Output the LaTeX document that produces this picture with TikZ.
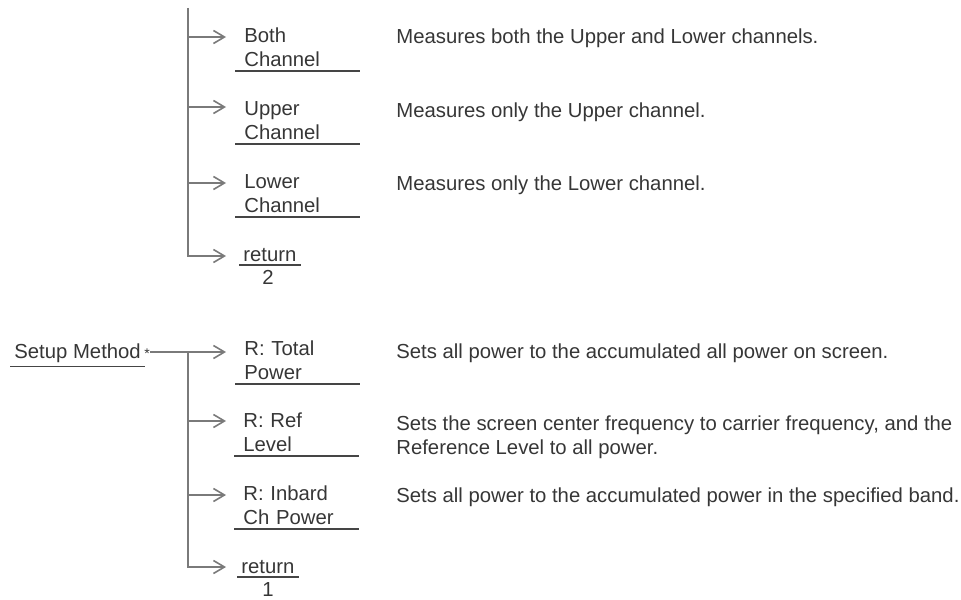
\documentclass[tikz,border=0pt]{standalone}
\usepackage{fontspec}
\setmainfont{Liberation Sans}
\usetikzlibrary{positioning, arrows.meta}
\definecolor{LinkGray}{HTML}{7A7A7A}
\definecolor{InkGray} {HTML}{363636}
\definecolor{RuleGray}{HTML}{454545}
\tikzset{
  every node/.style={font=\fontsize{10.15}{12}\selectfont, text=InkGray},
  % menu entry, underlined below its last line
  menu/.style={anchor=south west, align=left, text width=53pt,
               inner xsep=4.5pt, inner ysep=2pt},
  retkey/.style={anchor=south west, inner xsep=2pt, inner ysep=1.5pt},
  desc/.style={anchor=base west, align=left, inner sep=0pt},
  link/.style={draw=LinkGray, line width=0.8pt},
  arr/.style={link, -{Straight Barb[length=5.5pt, width=6.5pt, line width=0.8pt]}},
  uline/.style={draw=RuleGray, line width=0.7pt},
}
\begin{document}
\begin{tikzpicture}[x=0.5pt, y=-0.5pt]
\useasboundingbox (0,0) rectangle (961,599);

% upper sub-menu
\node[menu]   (both)  at (235,71)  {Both\\Channel};
\node[menu]   (upper) at (235,144) {Upper\\Channel};
\node[menu]   (lower) at (235,217) {Lower\\Channel};
\node[retkey] (ret2)  at (239,265) {return};
\node[below=-1pt of ret2, xshift=-1pt] (ret2num) {2};

\node[desc] (bothdesc)  at (396,44)  {Measures both the Upper and Lower channels.};
\node[desc] (upperdesc) at (396,117) {Measures only the Upper channel.};
\node[desc] (lowerdesc) at (396,190) {Measures only the Lower channel.};

\coordinate (trunkA)  at (188,8);
\coordinate (tipBoth) at (226,37);
\coordinate (tipUp)   at (226,107);
\coordinate (tipLow)  at (226,183);
\coordinate (tipRet2) at (226,256);

\draw[arr] (trunkA) |- (tipRet2);
\draw[arr] (trunkA |- tipBoth) -- (tipBoth);
\draw[arr] (trunkA |- tipUp)   -- (tipUp);
\draw[arr] (trunkA |- tipLow)  -- (tipLow);

% lower menu
\node[anchor=base west, inner xsep=2pt, inner ysep=1.9pt] (setup) at (10,358) {Setup Method};
\node[anchor=base west, inner sep=0pt, font=\scriptsize] (setupmark) at (144,358) {*};

\node[menu]   (total) at (235,384) {R: Total\\Power};
\node[menu]   (ref)   at (234,456) {R: Ref\\Level};
\node[menu]   (inbd)  at (234,529) {R: Inbard\\Ch Power};
\node[retkey] (ret1)  at (237,577) {return};
\node[below=-1pt of ret1, xshift=0pt] (ret1num) {1};

\node[desc] (totaldesc) at (396,358) {Sets all power to the accumulated all power on screen.};
\node[desc] (refdesc)   at (396,454) {Sets the screen center frequency to carrier frequency, and the\\Reference Level to all power.};
\node[desc] (inbddesc)  at (396,502) {Sets all power to the accumulated power in the specified band.};

\coordinate (trunkB)   at (188,352);
\coordinate (tipTotal) at (226,352);
\coordinate (tipRef)   at (226,421);
\coordinate (tipInbd)  at (226,495);
\coordinate (tipRet1)  at (226,567);

\draw[arr] (setupmark.east |- tipTotal) -- (tipTotal);
\draw[arr] (trunkB) |- (tipRet1);
\draw[arr] (trunkB |- tipRef)  -- (tipRef);
\draw[arr] (trunkB |- tipInbd) -- (tipInbd);

% underlines
\foreach \n in {both, upper, lower, ret2, setup, total, ref, inbd, ret1}
  \draw[uline] (\n.south west) -- (\n.south east);

\end{tikzpicture}
\end{document}
